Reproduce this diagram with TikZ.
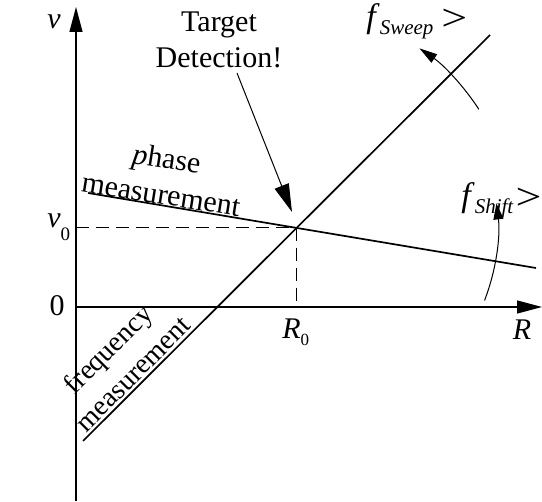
\documentclass[tikz,border=0pt]{standalone}
\usepackage{graphicx}
\usepackage{fontspec}
\setmainfont{Liberation Serif}
\usetikzlibrary{arrows.meta,calc}
\newcommand\lowsub[3][10]{\raisebox{-#2}{\fontsize{#1}{#1}\selectfont #3}}
\newcommand\bigGt{\raisebox{-1.5pt}{\scalebox{1.35}[1.1]{>}}}
\begin{document}
\begin{tikzpicture}[x=0.5pt,y=-0.5pt,
  axisline/.style={line width=0.6pt, -{Triangle[length=12.5pt,width=6.5pt]}},
  mainline/.style={line width=0.85pt},
  pointer/.style={line width=0.5pt},
  dashline/.style={line width=0.5pt, dash pattern=on 6.5pt off 3.5pt},
  lbl/.style={inner sep=0pt, font=\fontsize{15}{18}\selectfont},
  biglbl/.style={inner sep=0pt, font=\fontsize{17}{20}\selectfont},
]
\useasboundingbox (0,0) rectangle (542,502);
% axes
\coordinate (O) at (76,307);
\coordinate (yb) at (76,501);
\coordinate (yt) at (76,7);
\coordinate (xt) at (542,307);
\draw[axisline] (yb) -- (yt);
\draw[axisline] (O) -- (xt);
% lines
\coordinate (fa) at (83,441);
\coordinate (fb) at (490,35);
\coordinate (pa) at (88,193);
\coordinate (pb) at (536,268);
\coordinate (X) at (296,228);
\coordinate (vx) at (76,228);
\coordinate (rx) at (296,307);
\draw[mainline] (fa) -- (fb);
\draw[mainline] (pa) -- (pb);
\draw[dashline] (vx) -- (X) -- (rx);
% labels
\node[lbl] (v) at (54,22) {\textit{v}};
\node[lbl, anchor=base west] (v0) at (47,228) {\textit{v}\lowsub[9.5]{6.5pt}{0}};
\node[lbl] (zero) at (57,306) {0};
\node[lbl, anchor=base west] (R0) at (282,339) {\textit{R}\lowsub[8.5]{3.5pt}{0}};
\node[lbl] (R) at (522,330) {\textit{R}};
\node[lbl, align=center] (target) at (219,40) {Target\\Detection!};
\node[lbl, align=center, rotate=-9] (phase) at (164,176) {\textit{p}hase\\measurement};
\node[lbl, align=center, rotate=45, font=\fontsize{14}{17.5}\selectfont] (freq) at (120,361) {frequency\\measurement};
\node[biglbl, anchor=base west] (fsweep) at (366,28) {\textit{f}\lowsub[10.5]{3.5pt}{\textit{Sweep}}\hspace{4pt}\bigGt};
\node[biglbl, anchor=base west] (fshift) at (461,207) {\textit{f}\lowsub[10.5]{3.5pt}{\textit{Shift}}\hspace{1pt}\bigGt};
% pointers
\coordinate (tgtS) at (237,73);
\coordinate (tgtE) at (292,212);
\draw[pointer, -{Triangle[length=14pt,width=7.5pt]}] (tgtS) -- (tgtE);
\coordinate (sw1) at ($(X)+(-33:218)$);
\draw[pointer, -{Triangle[length=9pt,width=5pt]}] (sw1) arc[start angle=-33, end angle=-55.5, radius=218];
\coordinate (sh1) at ($(X)+(21:202)$);
\draw[pointer, -{Triangle[length=8pt,width=5pt]}] (sh1) arc[start angle=21, end angle=-7, radius=202];
\end{tikzpicture}
\end{document}
